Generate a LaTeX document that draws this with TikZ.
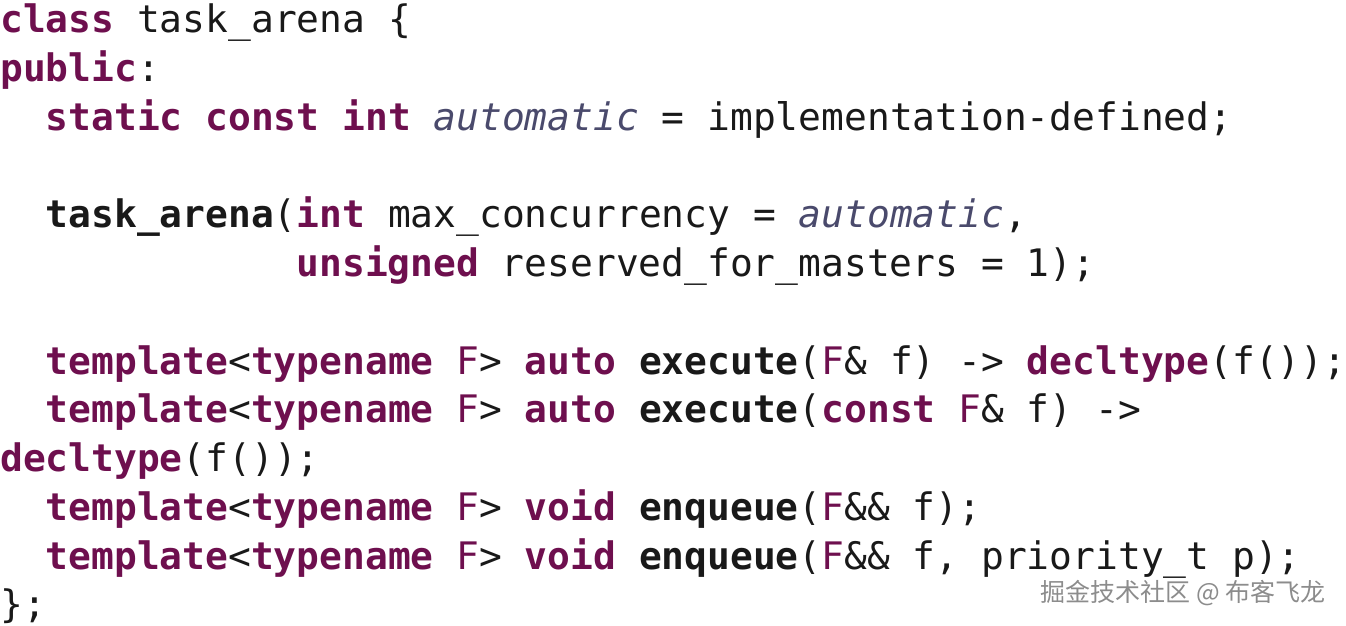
\documentclass[tikz,border=0pt]{standalone}
\usepackage{fontspec}
\setmonofont{DejaVu Sans Mono}
\newfontfamily\cjk{Noto Sans CJK SC}
\definecolor{kwpurple}{HTML}{6E0F4E}
\definecolor{autoblue}{HTML}{4A4A6C}
\newcommand{\kw}[1]{\textcolor{kwpurple}{\bfseries #1}}
\newcommand{\fn}[1]{{\bfseries #1}}
\newcommand{\ty}[1]{\textcolor{kwpurple}{#1}}
\newcommand{\autoval}[1]{\textcolor{autoblue}{\itshape #1}}
\begin{document}
\begin{tikzpicture}[x=1pt,y=-1pt,
  code/.style={anchor=base west, inner sep=0pt, font=\fontsize{37.9}{40}\ttfamily, text=black!90},
  wmark/.style={anchor=base east, inner sep=0pt, font=\fontsize{25}{28}\cjk, text=black!45}]
\useasboundingbox (0,0) rectangle (1346,625);

\node[code] (l1)  at (0,32)     {\kw{class} task\_arena \{};
\node[code] (l2)  at (0,81)     {\kw{public}:};
\node[code] (l3)  at (45.6,130) {\kw{static} \kw{const} \kw{int} \autoval{automatic} = implementation-defined;};
\node[code] (l5)  at (45.6,227) {\fn{task\_arena}(\kw{int} max\_concurrency = \autoval{automatic},};
\node[code] (l6)  at (296.4,276) {\kw{unsigned} reserved\_for\_masters = 1);};
\node[code] (l8)  at (45.6,374) {\kw{template}<\kw{typename} \ty{F}> \kw{auto} \fn{execute}(\ty{F}\& f) -> \kw{decltype}(f());};
\node[code] (l9)  at (45.6,422) {\kw{template}<\kw{typename} \ty{F}> \kw{auto} \fn{execute}(\kw{const} \ty{F}\& f) ->};
\node[code] (l10) at (0,471)    {\kw{decltype}(f());};
\node[code] (l11) at (45.6,520) {\kw{template}<\kw{typename} \ty{F}> \kw{void} \fn{enqueue}(\ty{F}\&\& f);};
\node[code] (l12) at (45.6,569) {\kw{template}<\kw{typename} \ty{F}> \kw{void} \fn{enqueue}(\ty{F}\&\& f, priority\_t p);};
\node[code] (l13) at (0,617)    {\};};

% watermark
\node[wmark] (wm) at (1326,601) {掘金技术社区 @ 布客飞龙};
\end{tikzpicture}
\end{document}
